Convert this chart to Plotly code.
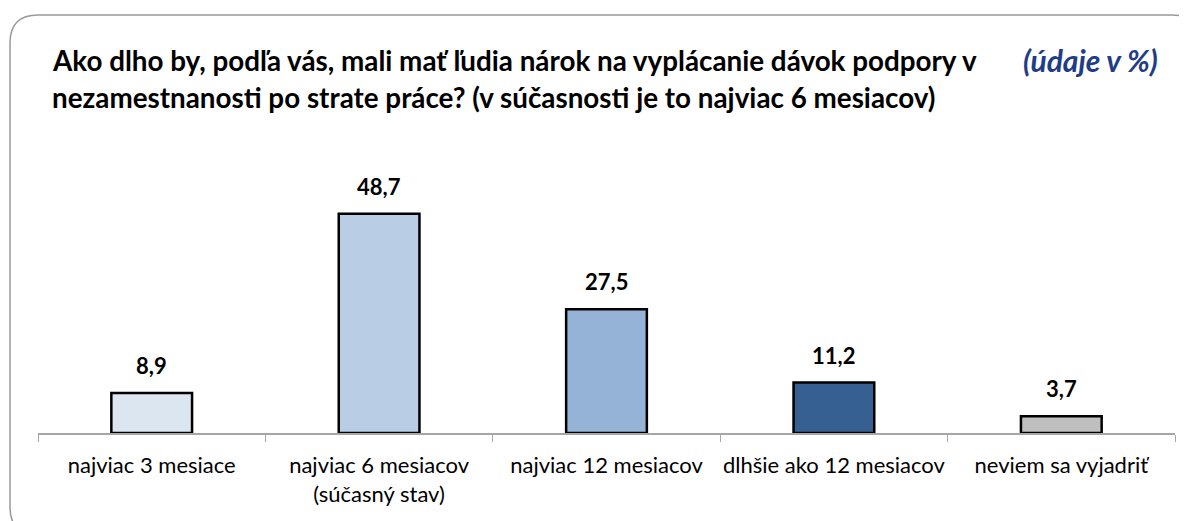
import plotly.graph_objects as go

categories = ["najviac 3 mesiace", "najviac 6 mesiacov<br>(súčasný stav)", "najviac 12 mesiacov",
              "dlhšie ako 12 mesiacov", "neviem sa vyjadriť"]
values = [8.9, 48.7, 27.5, 11.2, 3.7]
colors = ["#DCE6F1", "#B9CDE5", "#95B3D7", "#376092", "#BFBFBF"]

title_lines = ["Ako dlho by, podľa vás, mali mať ľudia nárok na vyplácanie dávok podpory v",
               "nezamestnanosti po strate práce? (v súčasnosti je to najviac 6 mesiacov)"]
unit_text = "<i>(údaje v %)</i>"

OFF = 8  # page body margin
W, H = 1187 - OFF, 521 - OFF
L, R, T, B = 38 - OFF, 1187 - 1175, 208 - OFF, 521 - 433
pw = W - L - R
ph = H - T - B

def px(x):
    return (x - OFF - L) / pw

def py(y):
    return (H - B - (y - OFF)) / ph

FONT = "Lato, 'Open Sans', sans-serif"

fig = go.Figure(go.Bar(
    x=categories, y=values,
    marker=dict(color=colors, line=dict(color="black", width=2.5)),
    width=0.355,
    hoverinfo="x+y",
))

for c, v in zip(categories, values):
    fig.add_annotation(x=c, y=v, text=f"{v:.1f}".replace(".", ","), showarrow=False,
                       yanchor="bottom", yshift=12,
                       font=dict(family=FONT, size=22, color="black", weight="bold"))

# rounded border
x0, x1, y0, y1 = px(10), px(1200), py(15), py(535)
rx, ry = 28 / pw, 28 / ph
path = (f"M {x0+rx},{y0} L {x1-rx},{y0} Q {x1},{y0} {x1},{y0-ry} "
        f"L {x1},{y1+ry} Q {x1},{y1} {x1-rx},{y1} L {x0+rx},{y1} "
        f"Q {x0},{y1} {x0},{y1+ry} L {x0},{y0-ry} Q {x0},{y0} {x0+rx},{y0} Z")
fig.add_shape(type="path", path=path, xref="paper", yref="paper",
              line=dict(color="#999999", width=1.5), layer="below")

for line, yc in zip(title_lines, [60, 98]):
    fig.add_annotation(text=line, xref="paper", yref="paper",
                       x=px(50), y=py(yc), xanchor="left", yanchor="middle", align="left",
                       showarrow=False,
                       font=dict(family=FONT, size=27.8, color="black", weight="bold"))
fig.add_annotation(text=unit_text, xref="paper", yref="paper",
                   x=px(1160), y=py(60), xanchor="right", yanchor="middle",
                   showarrow=False,
                   font=dict(family=FONT, size=30, color="#1F3C88", weight="bold"))

fig.update_layout(
    width=W, height=H,
    margin=dict(l=L, r=R, t=T, b=B, autoexpand=False),
    paper_bgcolor="white", plot_bgcolor="white",
    showlegend=False,
    font=dict(family=FONT, size=22, color="black"),
)
fig.update_xaxes(showline=True, linecolor="#A6A6A6", linewidth=1.5,
                 ticks="outside", tickson="boundaries", ticklen=7, tickcolor="#A6A6A6",
                 ticklabelstandoff=12, tickangle=0, automargin=False,
                 tickfont=dict(family=FONT, size=22, color="black"), showgrid=False)
fig.update_yaxes(range=[0, 50], visible=False, showgrid=False, automargin=False)

fig.write_html("out.html")
